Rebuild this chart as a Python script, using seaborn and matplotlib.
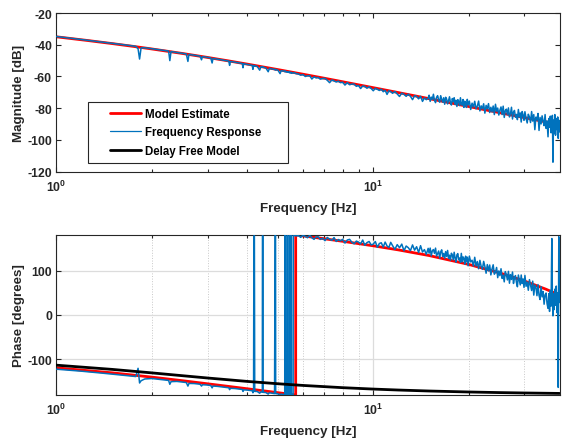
import numpy as np
import pandas as pd
import matplotlib
matplotlib.use("Agg")
import matplotlib.pyplot as plt
from matplotlib.lines import Line2D
from matplotlib.legend_handler import HandlerLine2D
from matplotlib.ticker import FixedLocator, FuncFormatter, NullFormatter
import seaborn as sns

# ---------------- identified model (with transport delay) ----------------
model_freq = [1.0, 1.25, 1.5, 1.75, 2.0, 2.5, 3.0, 3.5, 4.0, 5.0, 6.0, 7.0, 8.0,
              10.0, 12.0, 15.0, 20.0, 25.0, 30.0, 35.0, 38.7]
model_mag = [-35.0, -37.29, -39.27, -41.04, -42.65, -45.51, -48.0, -50.21, -52.2,
             -55.66, -58.57, -61.09, -63.31, -67.06, -70.15, -73.97, -78.92,
             -82.78, -85.93, -88.6, -90.34]

model_phase_freq = [1.0, 1.5, 2.0, 2.5, 3.0, 3.5, 4.0, 4.5, 5.0, 5.5, 5.69, 5.69,
                    6.0, 7.0, 8.0, 10.0, 12.0, 15.0, 20.0, 25.0, 30.0, 35.0, 38.7]
model_phase = [-119.0, -130.2, -139.8, -147.9, -154.85, -160.8, -166.0, -170.6,
               -174.8, -178.6, -180.0, 180.0, 177.9, 171.5, 165.8, 155.6, 146.4,
               133.7, 113.8, 94.9, 76.4, 58.2, 44.7]

# ---------------- same model without the delay ----------------
delay_free_freq = [1.0, 1.5, 2.0, 2.5, 3.0, 4.0, 5.0, 6.0, 8.0, 10.0, 12.0, 15.0,
                   20.0, 25.0, 30.0, 38.7]
delay_free_phase = [-112.96, -122.44, -130.28, -136.65, -141.81, -149.46, -154.73,
                    -158.53, -163.56, -166.72, -168.87, -171.06, -173.27, -174.61,
                    -175.5, -176.5]

# ---------------- measured frequency response ----------------
fr_freq = [
    # 1 - 4.2 Hz
    1.00, 1.10, 1.20, 1.30, 1.40, 1.50, 1.60, 1.70, 1.78, 1.81,
    1.83, 1.85, 1.90, 2.00, 2.10, 2.20, 2.26, 2.28, 2.30, 2.40,
    2.50, 2.57, 2.60, 2.62, 2.72, 2.84, 2.87, 2.89, 2.98, 3.07,
    3.10, 3.12, 3.22, 3.32, 3.42, 3.50, 3.52, 3.54, 3.66, 3.76,
    3.86, 3.88, 3.90, 4.00, 4.08, 4.15, 4.17, 4.19,
    # 4.2 - 5.7 Hz (phase wraps)
    4.20, 4.215, 4.225, 4.30, 4.38, 4.42, 4.465, 4.47, 4.485, 4.49,
    4.58, 4.66, 4.70, 4.80, 4.88, 4.90, 4.915, 4.92, 5.00, 5.08,
    5.12, 5.20, 5.255, 5.26, 5.275, 5.28, 5.345, 5.35, 5.36, 5.365,
    5.425, 5.43, 5.445, 5.45, 5.495, 5.50, 5.51, 5.515, 5.585, 5.59,
    5.64, 5.70,
    # 5.8 - 15 Hz
    5.80, 5.90, 6.00, 6.10, 6.20, 6.30, 6.40, 6.50, 6.60, 6.70,
    6.80, 6.92, 7.04, 7.16, 7.28, 7.40, 7.52, 7.64, 7.76, 7.88,
    8.00, 8.14, 8.28, 8.42, 8.56, 8.70, 8.84, 8.98, 9.12, 9.26,
    9.40, 9.55, 9.70, 9.85, 10.0, 10.15, 10.3, 10.45, 10.6, 10.75,
    10.9, 11.05, 11.2, 11.35, 11.5, 11.7, 11.9, 12.1, 12.3, 12.5,
    12.7, 12.9, 13.1, 13.3, 13.5, 13.7, 13.9, 14.1, 14.3, 14.5,
    14.7, 14.9,
    # 15 - 20 Hz
    15.00, 15.12, 15.24, 15.36, 15.48, 15.60, 15.72, 15.84, 15.96, 16.08,
    16.20, 16.32, 16.44, 16.56, 16.68, 16.80, 16.92, 17.04, 17.16, 17.28,
    17.40, 17.52, 17.64, 17.76, 17.88, 18.00, 18.12, 18.24, 18.36, 18.48,
    18.60, 18.72, 18.84, 18.96, 19.08, 19.20, 19.32, 19.44, 19.56, 19.68,
    19.80, 19.92,
    # 20 - 30 Hz
    20.1, 20.3, 20.5, 20.7, 20.9, 21.1, 21.3, 21.5, 21.7, 21.9,
    22.1, 22.3, 22.5, 22.7, 22.9, 23.1, 23.3, 23.5, 23.7, 23.9,
    24.1, 24.3, 24.5, 24.7, 24.9, 25.1, 25.3, 25.5, 25.7, 25.9,
    26.1, 26.3, 26.5, 26.7, 26.9, 27.1, 27.3, 27.5, 27.7, 27.9,
    28.1, 28.3, 28.5, 28.7, 28.9, 29.1, 29.3, 29.5, 29.7, 29.9,
    # 30 - 35.4 Hz
    30.1, 30.35, 30.6, 30.85, 31.1, 31.35, 31.6, 31.85, 32.1, 32.35,
    32.6, 32.85, 33.1, 33.35, 33.6, 33.85, 34.1, 34.35, 34.6, 34.85,
    35.1, 35.35,
    # 35.6 - 38.7 Hz
    35.6, 35.8, 36.0, 36.2, 36.4, 36.6, 36.75, 36.9, 37.05, 37.2,
    37.4, 37.6, 37.8, 38.0, 38.2, 38.35, 38.5, 38.6, 38.7,
]
fr_mag = [
    -34.8, -35.8, -36.7, -37.5, -38.3, -39.1, -39.8, -40.5, -41.0, -42.5,
    -49.0, -42.0, -41.9, -42.5, -43.1, -43.7, -44.0, -50.0, -44.3, -44.9,
    -45.4, -45.8, -50.5, -46.1, -46.6, -47.2, -49.5, -47.5, -47.9, -48.3,
    -51.5, -48.6, -49.1, -49.5, -50.0, -50.3, -53.0, -50.5, -51.0, -51.4,
    -51.8, -54.5, -52.0, -52.4, -52.7, -53.0, -55.5, -53.1,
    -53.5, -53.0, -53.3, -53.6, -56.0, -53.9, -54.1, -54.2, -53.9, -54.2,
    -54.6, -57.0, -54.9, -55.3, -55.6, -55.9, -55.4, -55.7, -56.0, -58.2,
    -56.3, -56.6, -56.7, -57.0, -56.6, -56.9, -57.0, -57.3, -57.0, -57.2,
    -57.3, -57.6, -57.2, -57.5, -57.6, -57.8, -57.4, -57.7, -57.9, -57.8,
    -57.6, -58.2,
    -58.4, -59.2, -58.8, -60.0, -59.6, -59.5, -61.6, -60.2, -60.9, -60.6,
    -61.7, -61.3, -61.2, -62.4, -63.9, -62.2, -62.8, -63.5, -62.9, -63.9,
    -63.6, -65.4, -63.9, -65.2, -64.8, -64.8, -66.2, -65.7, -67.6, -66.0,
    -66.3, -67.4, -66.5, -67.6, -69.0, -67.4, -68.1, -68.8, -68.0, -69.6,
    -68.7, -71.3, -69.0, -69.5, -70.6, -69.5, -71.0, -72.6, -70.5, -71.3,
    -72.5, -71.1, -72.5, -74.6, -72.1, -72.6, -74.1, -72.5, -75.7, -73.5,
    -74.6, -73.7,
    -71.8, -75.7, -73.0, -74.4, -71.2, -75.1, -76.5, -73.1, -72.1, -74.8,
    -76.2, -72.1, -74.3, -76.2, -73.4, -77.5, -73.1, -74.2, -77.3, -75.2,
    -72.8, -76.5, -78.0, -73.9, -75.9, -73.4, -77.5, -75.0, -78.9, -74.6,
    -75.6, -78.3, -73.4, -77.4, -78.1, -74.5, -79.5, -75.6, -76.6, -79.5,
    -74.4, -77.9,
    -75.5, -80.8, -76.8, -79.3, -75.6, -80.4, -78.6, -75.5, -81.7, -78.5,
    -80.4, -77.2, -83.1, -78.2, -80.4, -77.1, -82.7, -79.4, -82.3, -78.6,
    -84.0, -77.5, -81.9, -79.9, -84.3, -81.2, -79.2, -84.0, -78.7, -85.8,
    -81.5, -80.6, -84.1, -79.8, -85.5, -83.4, -79.4, -86.8, -82.4, -81.4,
    -85.7, -83.9, -87.2, -80.8, -85.6, -83.0, -88.7, -82.1, -84.3, -87.6,
    -82.2, -86.3, -89.3, -83.8, -85.5, -89.0, -82.1, -88.1, -84.0, -93.5,
    -85.6, -87.4, -83.3, -94.0, -85.8, -89.9, -84.8, -88.1, -91.0, -84.0,
    -92.7, -88.0,
    -98.0, -86.5, -92.0, -85.0, -95.5, -88.0, -84.5, -114.0, -87.5, -96.0,
    -84.0, -97.0, -86.5, -93.5, -85.5, -99.0, -87.5, -95.0, -90.0,
]
fr_phase = [
    -122.0, -124.3, -126.5, -128.8, -131.0, -133.2, -135.1, -137.0, -138.5, -120.0,
    -153.0, -148.0, -144.0, -143.0, -144.6, -146.3, -147.3, -156.0, -150.0, -149.5,
    -151.0, -152.0, -160.0, -154.0, -154.3, -155.8, -160.0, -157.0, -157.5, -158.7,
    -164.0, -160.0, -160.6, -161.8, -163.0, -163.8, -168.0, -165.0, -165.5, -166.6,
    -167.6, -172.0, -168.5, -169.0, -169.8, -170.5, -175.0, -171.0,
    178.0, 178.0, -172.0, -172.0, -176.0, -173.0, -174.0, 178.0, 178.0, -174.0,
    -174.5, -178.0, -175.0, -176.0, -177.0, 179.0, 179.0, -177.0, -177.5, -179.5,
    -177.8, -179.0, -179.0, 179.0, 178.0, -179.0, -179.5, 179.0, 178.5, -179.5,
    -179.5, 179.0, 178.0, -179.5, -179.8, 179.5, 178.5, -179.8, -179.8, 179.5,
    179.0, 177.8,
    178.9, 174.6, 179.3, 176.7, 173.8, 178.8, 173.9, 170.1, 175.3, 176.0,
    170.0, 172.8, 167.2, 174.4, 170.3, 168.0, 174.1, 165.4, 169.7, 166.8,
    170.3, 161.7, 168.7, 170.1, 163.6, 160.1, 166.2, 164.1, 159.8, 168.6,
    156.7, 162.8, 165.3, 157.6, 159.4, 165.2, 152.2, 160.8, 162.4, 152.8,
    164.0, 155.3, 151.8, 163.4, 156.2, 147.6, 158.2, 151.2, 159.4, 144.5,
    155.1, 151.3, 144.6, 157.6, 145.8, 153.5, 140.5, 155.9, 141.6, 147.1,
    136.3, 149.9,
    139.0, 150.5, 133.0, 144.6, 147.2, 138.6, 150.4, 132.5, 138.2, 143.9,
    127.8, 141.9, 146.6, 131.6, 138.4, 127.4, 142.6, 131.6, 145.2, 127.4,
    134.5, 123.2, 138.9, 135.2, 123.9, 141.1, 128.3, 118.8, 135.2, 138.1,
    124.1, 128.1, 118.6, 138.6, 119.6, 130.6, 127.7, 114.4, 132.3, 120.1,
    130.0, 110.6,
    132.3, 119.3, 123.2, 110.0, 129.8, 110.2, 120.2, 104.0, 122.9, 109.1,
    102.8, 120.6, 109.3, 93.9, 113.4, 99.2, 112.4, 90.1, 103.5, 112.9,
    91.7, 95.9, 106.9, 83.9, 99.1, 88.4, 104.0, 82.2, 89.5, 74.5,
    97.5, 91.0, 78.9, 98.1, 71.4, 90.8, 79.9, 96.6, 70.9, 83.3,
    88.6, 73.2, 63.5, 89.9, 78.8, 67.6, 89.9, 70.9, 81.1, 62.0,
    89.0, 64.5, 74.2, 55.6, 79.5, 66.6, 55.0, 76.1, 44.7, 67.5,
    62.2, 43.4, 68.4, 44.1, 34.8, 63.7, 40.7, 52.7, 24.2, 45.3,
    49.3, 25.6,
    15.0, 48.0, 8.0, 55.0, 20.0, 172.0, 38.0, -2.0, 48.0, 12.0,
    58.0, 22.0, 65.0, 5.0, 50.0, -163.0, 176.0, 28.0, 52.0,
]

# ---------------- axis set-up values ----------------
x_limits = (1.0, 38.7)
mag_limits = (-120, -20)
mag_ticks = [-120, -100, -80, -60, -40, -20]
phase_limits = (-180, 180)
phase_ticks = [-100, 0, 100]
decade_ticks = [1, 10]
decade_labels = [r"$\mathbf{10^{0}}$", r"$\mathbf{10^{1}}$"]
minor_ticks = [2, 3, 4, 5, 6, 7, 8, 9, 20, 30]
series_names = ["Model Estimate", "Frequency Response", "Delay Free Model"]

RED = "#ff0000"
BLUE = "#0072bd"
BLACK = "#000000"
INK = "#262626"

sns.set_theme(style="ticks")
plt.rcParams["font.family"] = ["Liberation Sans", "DejaVu Sans"]
plt.rcParams["font.weight"] = "bold"
plt.rcParams["axes.unicode_minus"] = False
plt.rcParams["mathtext.fontset"] = "custom"
plt.rcParams["mathtext.rm"] = "Liberation Sans:bold"
plt.rcParams["mathtext.bf"] = "Liberation Sans:bold"
plt.rcParams["mathtext.it"] = "Liberation Sans:bold"

model_df = pd.DataFrame({"freq": model_freq, "mag": model_mag})
model_ph_df = pd.DataFrame({"freq": model_phase_freq, "phase": model_phase})
free_df = pd.DataFrame({"freq": delay_free_freq, "phase": delay_free_phase})
fr_df = pd.DataFrame({"freq": fr_freq, "mag": fr_mag, "phase": fr_phase})

fig = plt.figure(figsize=(5.63, 4.39), dpi=100)
ax_mag = fig.add_axes([0.1002, 0.6066, 0.8936, 0.3615])
ax_ph = fig.add_axes([0.1002, 0.0980, 0.8936, 0.3645])

# magnitude panel
sns.lineplot(data=model_df, x="freq", y="mag", ax=ax_mag, color=RED, linewidth=2.0,
             sort=False, estimator=None, zorder=2)
red_line = ax_mag.lines[-1]
sns.lineplot(data=fr_df, x="freq", y="mag", ax=ax_mag, color=BLUE, linewidth=1.1,
             sort=False, estimator=None, zorder=3)
blue_line = ax_mag.lines[-1]

# phase panel
sns.lineplot(data=model_ph_df, x="freq", y="phase", ax=ax_ph, color=RED, linewidth=2.0,
             sort=False, estimator=None, zorder=2)
sns.lineplot(data=fr_df, x="freq", y="phase", ax=ax_ph, color=BLUE, linewidth=1.1,
             sort=False, estimator=None, zorder=3)
sns.lineplot(data=free_df, x="freq", y="phase", ax=ax_ph, color=BLACK, linewidth=2.0,
             sort=False, estimator=None, zorder=4)
black_line = ax_ph.lines[-1]


def decade_fmt(value, pos):
    for tick, lab in zip(decade_ticks, decade_labels):
        if abs(value - tick) < 1e-9:
            return lab
    return ""


def style_axes(ax, ylim, yticks, ylabel):
    ax.set_xscale("log")
    ax.set_xlim(*x_limits)
    ax.set_ylim(*ylim)
    ax.xaxis.set_major_locator(FixedLocator(decade_ticks))
    ax.xaxis.set_major_formatter(FuncFormatter(decade_fmt))
    ax.xaxis.set_minor_locator(FixedLocator(minor_ticks))
    ax.xaxis.set_minor_formatter(NullFormatter())
    ax.yaxis.set_major_locator(FixedLocator(yticks))
    ax.tick_params(which="both", direction="in", top=True, right=True,
                   color=INK, width=0.8, labelcolor=INK, labelsize=8.8)
    ax.tick_params(axis="x", which="major", length=3.6, pad=5.0)
    ax.tick_params(axis="y", which="major", length=3.6, pad=3.2)
    ax.tick_params(which="minor", length=2.3)
    for lab in ax.get_xticklabels() + ax.get_yticklabels():
        lab.set_fontweight("bold")
    for sp in ax.spines.values():
        sp.set_color(INK)
        sp.set_linewidth(0.8)
    ax.set_xlabel("Frequency [Hz]", fontsize=9.6, fontweight="bold", color=INK,
                  labelpad=6)
    ax.set_ylabel(ylabel, fontsize=9.6, fontweight="bold", color=INK, labelpad=1.5)


style_axes(ax_mag, mag_limits, mag_ticks, "Magnitude [dB]")
style_axes(ax_ph, phase_limits, phase_ticks, "Phase [degrees]")

# grid only on the phase panel
ax_ph.grid(which="major", axis="both", color="#dcdcdc", linewidth=0.9, linestyle="-")
ax_ph.grid(which="minor", axis="x", color="#c8c8c8", linewidth=0.7, linestyle=":")
ax_ph.set_axisbelow(True)
ax_mag.grid(False)


class LeadLineHandler(HandlerLine2D):
    """Legend line that starts after a blank lead-in inside the handle box."""

    def __init__(self, lead, **kw):
        super().__init__(**kw)
        self.lead = lead

    def create_artists(self, legend, orig_handle, xdescent, ydescent, width,
                       height, fontsize, trans):
        lead = self.lead * fontsize
        return super().create_artists(legend, orig_handle, xdescent - lead,
                                      ydescent, width - lead, height, fontsize,
                                      trans)


leg = ax_mag.legend([red_line, blue_line, black_line], series_names,
                    loc="lower left", bbox_to_anchor=(0.063, 0.055, 0.397, 0.5),
                    mode="expand", borderaxespad=0, borderpad=0.55,
                    handlelength=4.05, handletextpad=0.35, labelspacing=0.55,
                    fontsize=8.3, frameon=True, fancybox=False, framealpha=1,
                    edgecolor=INK, handler_map={Line2D: LeadLineHandler(1.36)})
leg.get_frame().set_linewidth(0.8)
for t in leg.get_texts():
    t.set_fontweight("bold")
    t.set_color("black")
# the legend line for the measured response stays thin
leg.get_lines()[1].set_linewidth(0.9)

fig.savefig("out.png", dpi=100)
